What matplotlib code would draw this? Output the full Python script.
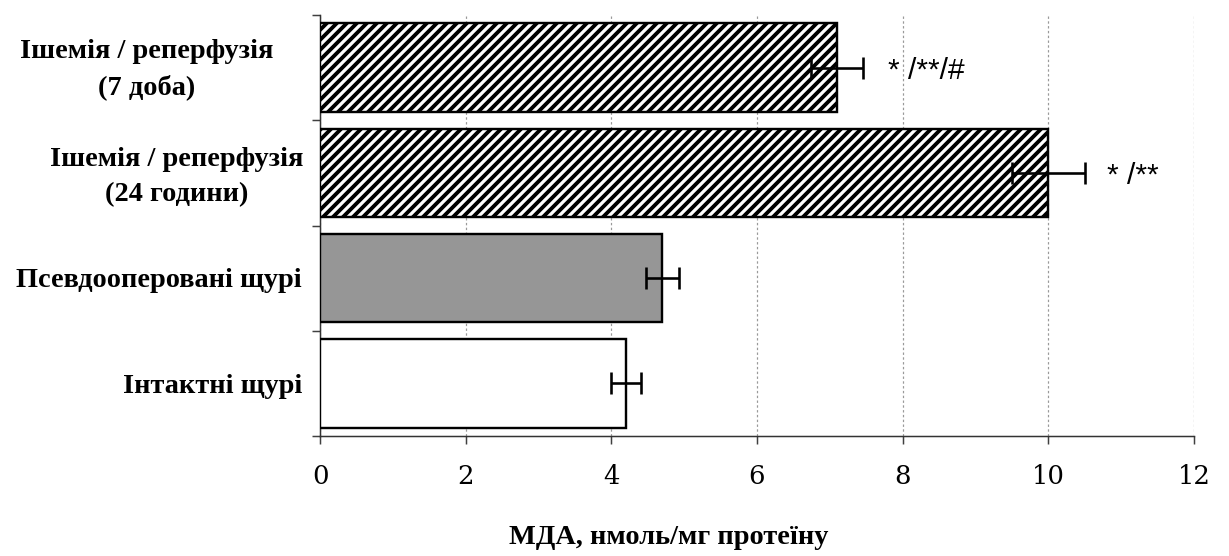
import matplotlib
matplotlib.use("Agg")
import matplotlib.pyplot as plt
from matplotlib.transforms import ScaledTranslation, blended_transform_factory
import numpy as np

categories = ["Інтактні щурі", "Псевдооперовані щурі",
              "Ішемія / реперфузія\n(24 години)", "Ішемія / реперфузія\n(7 доба)"]
values = [4.2, 4.7, 10.0, 7.1]
errors = [0.21, 0.23, 0.5, 0.36]
annotations = ["", "", "* /**", "* /**/#"]
annot_x = [0, 0, 10.8, 7.8]
xticks = [0, 2, 4, 6, 8, 10, 12]
xlabel = "МДА, нмоль/мг протеїну"

DPI = 120
W, H = 1229, 556
px = 72.0 / DPI  # points per pixel

plt.rcParams['hatch.linewidth'] = 2.3
plt.rcParams['font.family'] = ['Liberation Serif', 'DejaVu Serif']

fig = plt.figure(figsize=(W / DPI, H / DPI), dpi=DPI)
ax = fig.add_axes([320 / W, 1 - 436 / H, (1194 - 320) / W, (436 - 15) / H])

y = np.arange(len(categories))
facecolors = ["white", "#969696", "white", "white"]
hatches = [None, None, "////", "////"]
for i in range(len(categories)):
    ax.barh(y[i], values[i], height=0.84, color=facecolors[i], edgecolor="black",
            linewidth=2.4 * px, hatch=hatches[i], zorder=3)
ax.errorbar(values, y, xerr=errors, fmt="none", ecolor="black",
            elinewidth=2.6 * px, capsize=11 * px, capthick=2.6 * px, zorder=4)

for i, t in enumerate(annotations):
    if t:
        ax.text(annot_x[i], y[i] - 0.03, t, ha="left", va="center", fontsize=18,
                family=['Liberation Sans', 'DejaVu Sans'], zorder=5)

ax.set_xlim(0, 12)
ax.set_ylim(-0.5, len(categories) - 0.5)
ax.set_xticks(xticks)
ax.set_xticklabels([str(v) for v in xticks], fontsize=15.5,
                   family=['DejaVu Serif'])

# category labels (drawn as text so each can be placed like the original)
ax.set_yticks(y)
ax.set_yticklabels([""] * len(categories))
label_right_px = [302, 302, 303, 273]
label_dy_px = [-3, -2, -4, -2]
trans = blended_transform_factory(fig.transFigure, ax.transData)
for i, c in enumerate(categories):
    ax.text(label_right_px[i] / W, y[i], c, transform=trans + ScaledTranslation(
        0, label_dy_px[i] / DPI, fig.dpi_scale_trans),
        ha="right", va="center", fontsize=17, fontweight="bold",
        multialignment="center", linespacing=1.5, clip_on=False)

ax.tick_params(axis="y", which="major", length=0)
ax.set_yticks(np.arange(-0.5, len(categories), 1.0), minor=True)
ax.tick_params(axis="y", which="minor", length=8 * px, direction="out",
               width=1.5 * px, color="#404040")
ax.tick_params(axis="x", which="major", length=8 * px, width=1.5 * px, color="#404040",
               direction="out", pad=20 * px)

ax.grid(axis="x", linestyle=(0, (2, 2)), color="#999999", linewidth=1.2 * px, zorder=0)
ax.set_axisbelow(True)
for s in ["top", "right"]:
    ax.spines[s].set_visible(False)
for s in ["left", "bottom"]:
    ax.spines[s].set_color("#333333")
    ax.spines[s].set_linewidth(1.5 * px)

fig.text(669 / W, 1 - 537 / H, xlabel, ha="center", va="center", fontsize=17,
         fontweight="bold")

fig.savefig("out.png", dpi=DPI)
